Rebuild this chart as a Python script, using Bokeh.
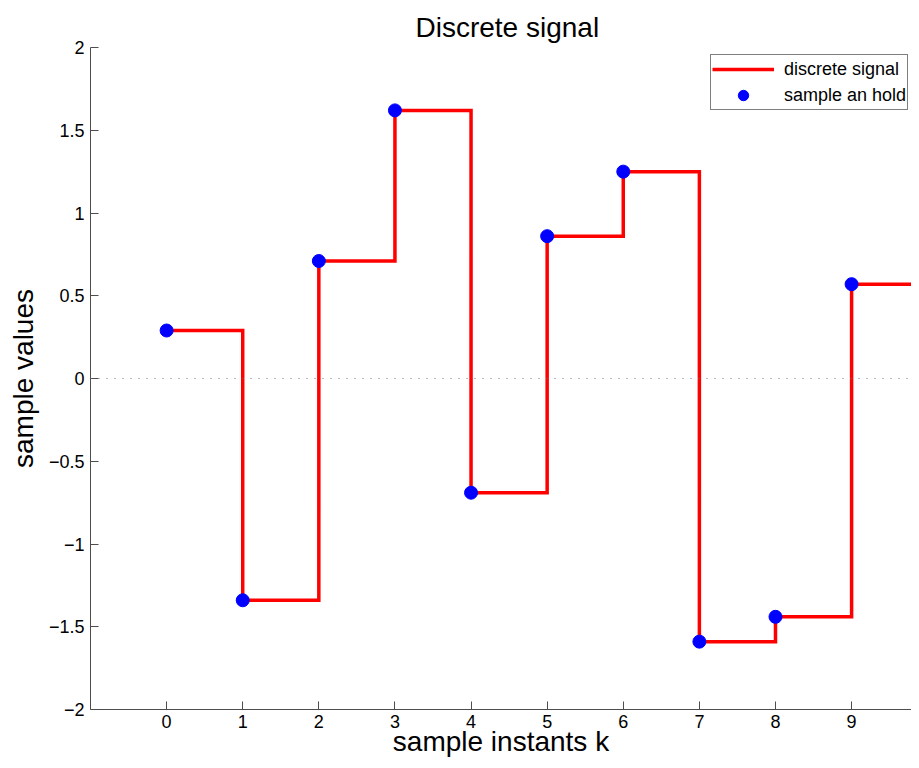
from bokeh.plotting import figure
from bokeh.models import Range1d, Span, Legend, LegendItem, FixedTicker
from bokeh.embed import file_html
from bokeh.resources import INLINE

# ---- data ----
k = [0, 1, 2, 3, 4, 5, 6, 7, 8, 9]
samples = [0.29, -1.34, 0.71, 1.62, -0.69, 0.86, 1.25, -1.59, -1.44, 0.57]
hold_end = 10
x_ticks = [0, 1, 2, 3, 4, 5, 6, 7, 8, 9]
y_ticks = [-2.0, -1.5, -1.0, -0.5, 0.0, 0.5, 1.0, 1.5, 2.0]
y_tick_labels = ["\u22122", "\u22121.5", "\u22121", "\u22120.5", "0", "0.5", "1", "1.5", "2"]
title_text = "Discrete signal"
x_label = "sample instants k"
y_label = "sample values"
legend_labels = ["discrete signal", "sample an hold"]

FONT = "Liberation Sans"

p = figure(width=911, height=760, output_backend="svg", toolbar_location=None,
           x_range=Range1d(-1, 9.787), y_range=Range1d(-2, 2),
           min_border_left=90, min_border_right=0, min_border_top=47, min_border_bottom=51,
           title=title_text)
p.outline_line_color = None
p.xgrid.visible = False
p.ygrid.visible = False
p.background_fill_color = "white"
p.border_fill_color = "white"

p.title.text_font = FONT
p.title.text_font_size = "28px"
p.title.text_font_style = "normal"
p.title.text_color = "black"
p.title.align = "left"
p.title.offset = 325
p.title.standoff = 9

for ax in (p.xaxis, p.yaxis):
    ax.axis_line_color = "#4d4d4d"
    ax.axis_line_width = 1
    ax.major_tick_line_color = "#4d4d4d"
    ax.major_tick_in = 8
    ax.major_tick_out = 0
    ax.minor_tick_line_color = None
    ax.major_label_text_font = FONT
    ax.major_label_text_font_size = "18px"
    ax.major_label_text_color = "black"
    ax.axis_label_text_font = FONT
    ax.axis_label_text_font_size = "28px"
    ax.axis_label_text_font_style = "normal"
    ax.axis_label_text_color = "black"

p.xaxis.axis_label = x_label
p.yaxis.axis_label = y_label
p.xaxis.ticker = FixedTicker(ticks=x_ticks)
p.yaxis.ticker = FixedTicker(ticks=y_ticks)
p.yaxis.major_label_overrides = {t: s for t, s in zip(y_ticks, y_tick_labels)}
p.xaxis.major_label_standoff = 5
p.yaxis.major_label_standoff = 6
p.xaxis.axis_label_standoff = -5
p.yaxis.axis_label_standoff = 7

# zero reference line
p.add_layout(Span(location=0, dimension="width", line_color="#777777",
                  line_width=1, line_dash="1 7"))

# sample and hold signal
step_x = k + [hold_end]
step_y = samples + [samples[-1]]
r_line = p.step(step_x, step_y, mode="after", line_color="#ff0000",
                line_width=3.5, line_join="miter")
r_pts = p.scatter(k, samples, size=13, fill_color="#0000ff", line_color="#0000ff")

legend = Legend(items=[LegendItem(label=legend_labels[0], renderers=[r_line]),
                       LegendItem(label=legend_labels[1], renderers=[r_pts])],
                location=(620, 599))
legend.border_line_color = "black"
legend.border_line_width = 1
legend.background_fill_color = "white"
legend.background_fill_alpha = 1
legend.label_text_font = FONT
legend.label_text_font_size = "18px"
legend.label_text_color = "black"
legend.glyph_width = 62
legend.glyph_height = 26
legend.label_height = 26
legend.label_standoff = 10
legend.spacing = 0
legend.padding = 1
legend.margin = 0
p.add_layout(legend)

open("out.html", "w").write(file_html(p, INLINE))
